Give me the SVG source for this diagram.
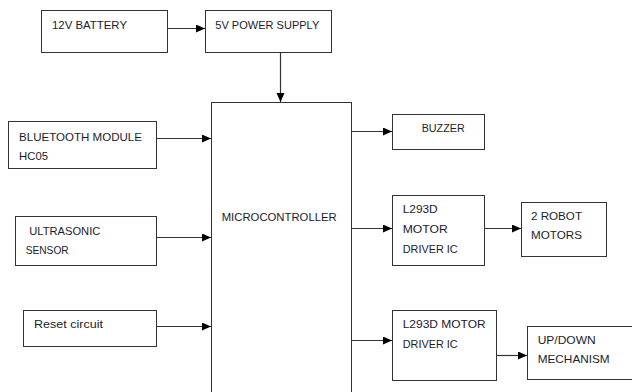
<svg xmlns="http://www.w3.org/2000/svg" width="632" height="392" viewBox="0 0 632 392">
<style>
rect{fill:#fff;stroke:#333;stroke-width:1}
text{font-family:"Liberation Sans",Arial,sans-serif;font-size:11.5px;fill:#1c1c2c}
.c line{stroke:#333;stroke-width:1.2}
</style>
<defs>
<marker id="a" markerUnits="userSpaceOnUse" markerWidth="10" markerHeight="10" refX="9" refY="4" orient="auto">
<path d="M0,0 L9,4 L0,8 Z" fill="#000"/>
</marker>
</defs>
<rect x="0" y="0" width="632" height="392" style="stroke:none"/>
<g id="battery"><rect x="41.5" y="10.5" width="126" height="42"/><text x="52" y="29" textLength="75" lengthAdjust="spacingAndGlyphs">12V BATTERY</text></g>
<g id="power"><rect x="205.5" y="10.5" width="126" height="42"/><text x="215.3" y="29" textLength="104" lengthAdjust="spacingAndGlyphs">5V POWER SUPPLY</text></g>
<g id="mcu"><rect x="211.5" y="102.5" width="140" height="300"/><text x="221.7" y="221" textLength="115" lengthAdjust="spacingAndGlyphs">MICROCONTROLLER</text></g>
<g id="bluetooth"><rect x="8.5" y="121.5" width="148" height="47"/><text x="19" y="140.7" textLength="123" lengthAdjust="spacingAndGlyphs">BLUETOOTH MODULE</text><text x="19" y="160" textLength="29" lengthAdjust="spacingAndGlyphs">HC05</text></g>
<g id="ultrasonic"><rect x="15.5" y="216.5" width="141" height="49"/><text x="29.3" y="235" textLength="71" lengthAdjust="spacingAndGlyphs">ULTRASONIC</text><text x="25.7" y="254.3" textLength="43" lengthAdjust="spacingAndGlyphs">SENSOR</text></g>
<g id="reset"><rect x="23.5" y="310.5" width="133" height="36"/><text x="34" y="328.3" textLength="69" lengthAdjust="spacingAndGlyphs">Reset circuit</text></g>
<g id="buzzer"><rect x="392.5" y="114.5" width="92" height="35"/><text x="421.7" y="132.3" textLength="43" lengthAdjust="spacingAndGlyphs">BUZZER</text></g>
<g id="driver1"><rect x="392.5" y="195.5" width="92" height="70"/><text x="402.7" y="213.3" textLength="35" lengthAdjust="spacingAndGlyphs">L293D</text><text x="402.7" y="233.3" textLength="45" lengthAdjust="spacingAndGlyphs">MOTOR</text><text x="402.7" y="252.7" textLength="55" lengthAdjust="spacingAndGlyphs">DRIVER IC</text></g>
<g id="motors"><rect x="521.5" y="202.5" width="85" height="54"/><text x="531" y="220" textLength="51" lengthAdjust="spacingAndGlyphs">2 ROBOT</text><text x="531" y="239.3" textLength="51" lengthAdjust="spacingAndGlyphs">MOTORS</text></g>
<g id="driver2"><rect x="392.5" y="310.5" width="104" height="70"/><text x="402.7" y="327.7" textLength="83" lengthAdjust="spacingAndGlyphs">L293D MOTOR</text><text x="402.7" y="347.7" textLength="55" lengthAdjust="spacingAndGlyphs">DRIVER IC</text></g>
<g id="updown"><rect x="527.5" y="326.5" width="120" height="53"/><text x="537.7" y="344.3" textLength="58" lengthAdjust="spacingAndGlyphs">UP/DOWN</text><text x="537.7" y="363.3" textLength="72" lengthAdjust="spacingAndGlyphs">MECHANISM</text></g>
<g class="c">
<line x1="167.5" y1="28.5" x2="205" y2="28.5" marker-end="url(#a)"/>
<line x1="280.5" y1="52.5" x2="280.5" y2="102" marker-end="url(#a)"/>
<line x1="156.5" y1="138.5" x2="211" y2="138.5" marker-end="url(#a)"/>
<line x1="156.5" y1="237.5" x2="211" y2="237.5" marker-end="url(#a)"/>
<line x1="156.5" y1="326.5" x2="211" y2="326.5" marker-end="url(#a)"/>
<line x1="351.5" y1="131.5" x2="392" y2="131.5" marker-end="url(#a)"/>
<line x1="351.5" y1="228.5" x2="392" y2="228.5" marker-end="url(#a)"/>
<line x1="484.5" y1="228.5" x2="521" y2="228.5" marker-end="url(#a)"/>
<line x1="351.5" y1="340.5" x2="392" y2="340.5" marker-end="url(#a)"/>
<line x1="496.5" y1="355.5" x2="527" y2="355.5" marker-end="url(#a)"/>
</g>
</svg>
